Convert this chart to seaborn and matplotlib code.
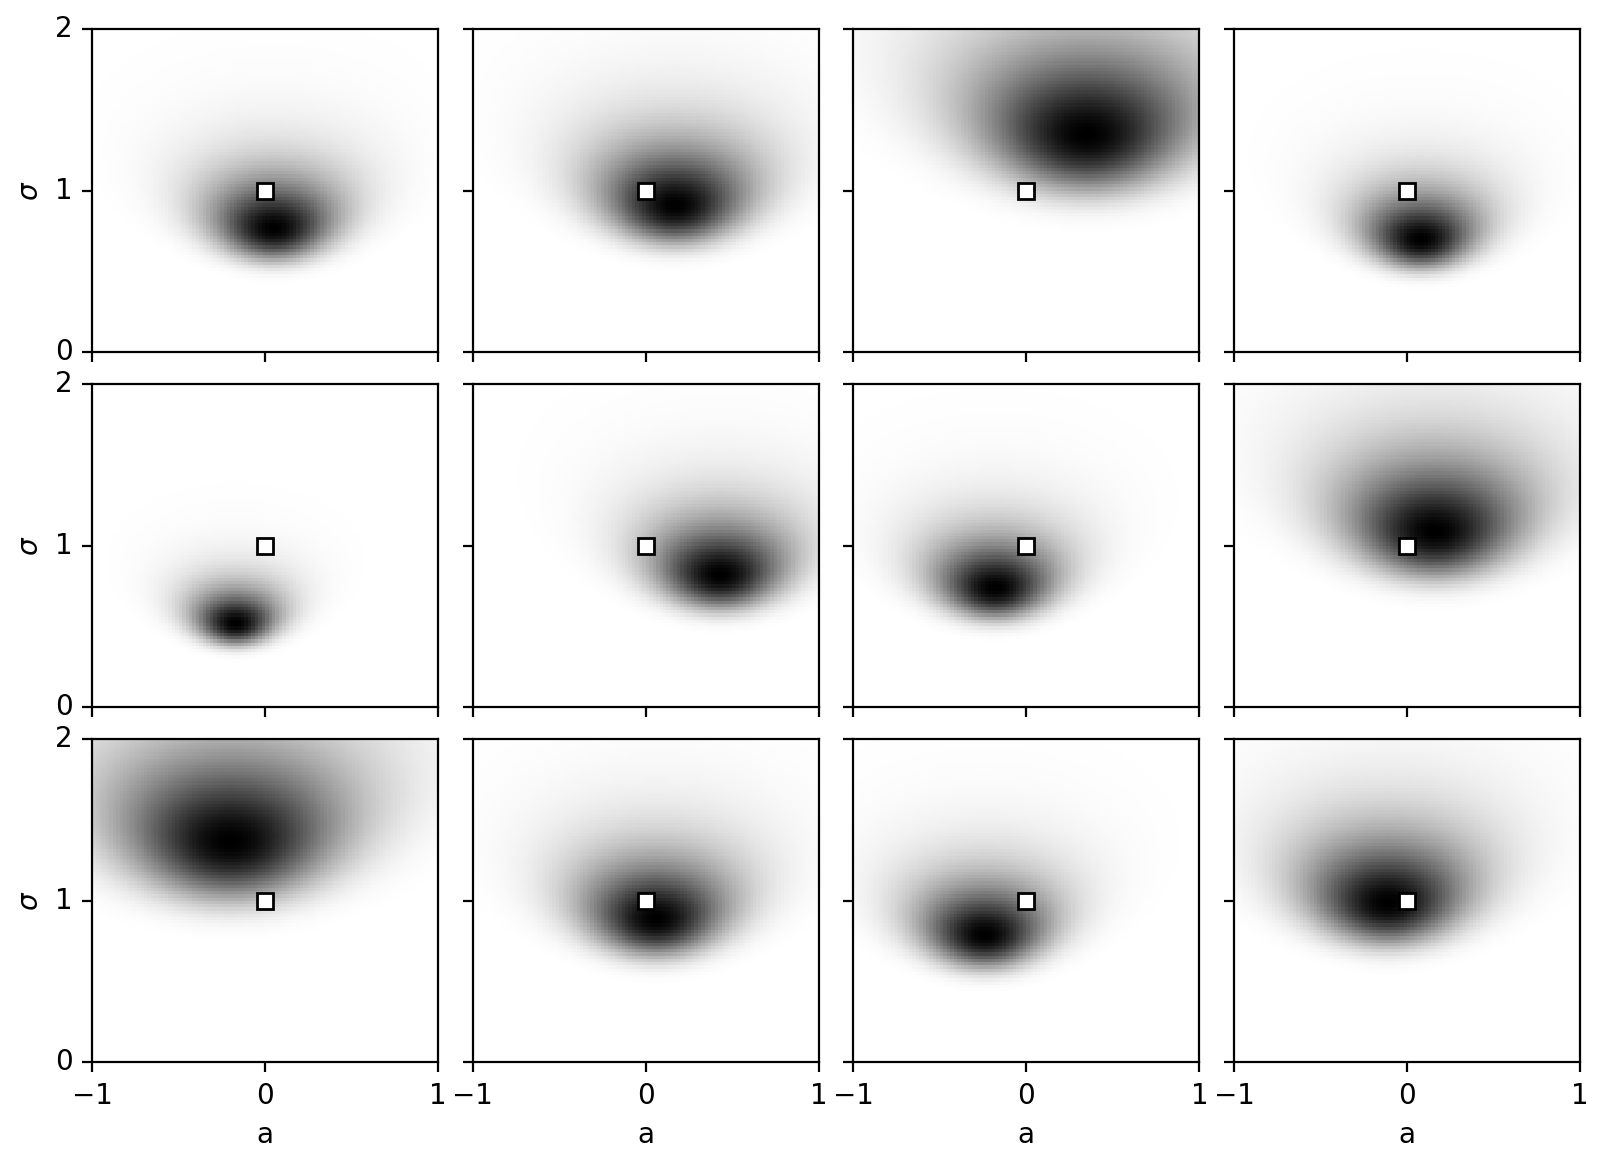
import numpy as np
import matplotlib
matplotlib.use("Agg")
import matplotlib.pyplot as plt
import seaborn as sns

# true parameters (marker)
true_a = 0.0
true_sigma = 1.0

# per-panel sample mean / sample std (peak of the likelihood)
sample_mean = [0.05, 0.17, 0.35, 0.08,
               -0.17, 0.43, -0.18, 0.16,
               -0.20, 0.06, -0.24, -0.11]
sample_std = [0.77, 0.91, 1.35, 0.70,
              0.52, 0.82, 0.74, 1.09,
              1.37, 0.89, 0.79, 0.99]
sample_size = 10

a_range = [-1, 1]
sigma_range = [0, 2]
x_ticks = [-1, 0, 1]
y_ticks = [0, 1, 2]
N = 100

# cell centres of the grid
a_grid = np.linspace(a_range[0], a_range[1], N + 1)
a_grid = (a_grid[:-1] + a_grid[1:]) / 2
s_grid = np.linspace(sigma_range[0], sigma_range[1], N + 1)
s_grid = (s_grid[:-1] + s_grid[1:]) / 2
A, S = np.meshgrid(a_grid, s_grid)


def likelihood(m, s, n):
    logL = -n * np.log(S) - n * ((m - A) ** 2 + s ** 2) / (2 * S ** 2)
    logL -= logL.max()
    return np.exp(logL)


def to_cell_x(v):
    return (v - a_range[0]) / (a_range[1] - a_range[0]) * N


def to_cell_y(v):
    return (v - sigma_range[0]) / (sigma_range[1] - sigma_range[0]) * N


def fmt(v):
    return str(v).replace("-", "\u2212")


fig, axes = plt.subplots(3, 4, figsize=(8.035, 5.82), dpi=200)
fig.subplots_adjust(left=0.0573, right=0.9832, top=0.975, bottom=0.0874,
                    wspace=0.1, hspace=0.1)

for i, ax in enumerate(axes.flat):
    row, col = divmod(i, 4)
    L = likelihood(sample_mean[i], sample_std[i], sample_size)
    sns.heatmap(L, ax=ax, cmap="gray_r", vmin=0, vmax=1, cbar=False,
                xticklabels=False, yticklabels=False)
    ax.set_ylim(0, N)
    ax.set_xlim(0, N)
    for sp in ax.spines.values():
        sp.set_visible(True)
        sp.set_linewidth(0.8)
        sp.set_color("black")
    ax.plot(to_cell_x(true_a), to_cell_y(true_sigma), "s", ms=6,
            mfc="white", mec="black", mew=1.0, zorder=5)

    ax.set_xticks([to_cell_x(v) for v in x_ticks])
    ax.set_yticks([to_cell_y(v) for v in y_ticks])
    ax.tick_params(length=3.5, width=0.8, direction="out", labelsize=10,
                   left=True, bottom=True, color="black")
    if row == 2:
        ax.set_xticklabels([fmt(v) for v in x_ticks])
        ax.set_xlabel("a", fontsize=10)
    else:
        ax.set_xticklabels([])
        ax.set_xlabel("")
    if col == 0:
        ax.set_yticklabels([fmt(v) for v in y_ticks], rotation=0, va="center")
        ax.set_ylabel("$\\sigma$", fontsize=10)
    else:
        ax.set_yticklabels([])
        ax.set_ylabel("")

fig.savefig("out.png", dpi=200)
